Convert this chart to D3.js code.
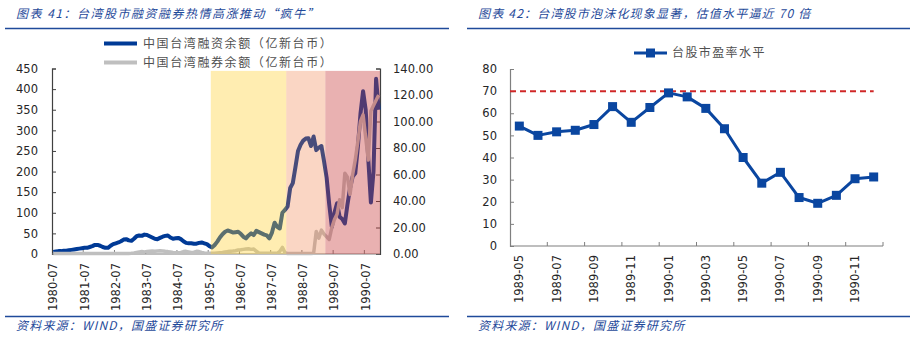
<!DOCTYPE html>
<html><head><meta charset="utf-8">
<script src="https://cdn.jsdelivr.net/npm/d3@7"></script>
<style>
body{margin:0;background:#fff;}
svg{display:block;}
</style></head>
<body>
<svg id="c" width="919" height="338"></svg>
<script>
// ---------- DATA ----------
const leftTitle = "图表 41：台湾股市融资融券热情高涨推动“疯牛”";
const rightTitle = "图表 42：台湾股市泡沫化现象显著，估值水平逼近 70 倍";
const sourceText = "资料来源：WIND，国盛证券研究所";
const seriesMarginName = "中国台湾融资余额（亿新台币）";
const seriesShortName = "中国台湾融券余额（亿新台币）";
const seriesPEName = "台股市盈率水平";

const startYear = 1980, startMonth = 7, monthCount = 126; // 1980-07 .. 1990-12
const monthCats = [];
for (let i = 0; i < monthCount; i++) {
  const m = startMonth - 1 + i;
  const y = startYear + Math.floor(m / 12);
  const mm = (m % 12) + 1;
  monthCats.push(y + "-" + String(mm).padStart(2, "0"));
}
const monthTickLabels = ["1980-07","1981-07","1982-07","1983-07","1984-07","1985-07","1986-07","1987-07","1988-07","1989-07","1990-07"];

// 融资余额 (left axis, 亿新台币)
const marginBalance = [
  5,6,7,7,8,8,9,10,11,12,13,14,
  15,15,17,19,22,22,20,17,15,15,20,24,
  26,28,31,35,36,33,32,37,43,45,44,47,
  46,43,40,37,36,39,42,44,45,40,37,38,
  39,36,31,27,26,26,25,25,27,28,26,24,
  19,16,22,30,40,48,54,57,55,52,53,54,
  49,42,38,45,50,46,56,53,50,47,45,38,
  52,76,66,62,100,107,115,160,172,210,250,265,
  275,280,281,262,285,252,258,262,225,185,120,66,
  100,123,90,85,74,120,160,188,196,260,340,395,
  350,230,125,200,425,350
];
// 融券余额 (right axis, 亿新台币)
const shortBalance = [
  0.4,0.4,0.4,0.4,0.4,0.4,0.4,0.4,0.4,0.4,0.4,0.4,
  0.4,0.4,0.4,0.4,0.4,0.4,0.4,0.4,0.4,0.4,0.4,0.4,
  0.4,0.4,0.4,0.4,0.4,0.4,0.5,0.8,1.2,1.6,1.8,1.6,
  1.8,2.0,2.2,2.0,2.3,2.5,2.3,2.0,1.8,1.5,1.2,1.0,
  1.0,1.2,1.8,2.0,1.6,1.2,1.4,2.0,1.8,1.2,0.8,0.6,
  0.5,0.5,0.6,0.8,1.0,1.2,1.5,1.8,2.0,2.2,2.5,3.0,
  3.2,3.5,3.8,4.0,3.5,3.8,2.0,0.8,0.5,0.5,0.5,0.5,
  0.5,0.5,0.5,2.0,5.0,1.0,0.3,0.3,0.3,0.3,0.3,0.3,
  0.3,0.3,0.3,0.3,0.5,17,12,18,15,13,11,20,
  26,30,41,35,61,58,45,60,71,85,100,105,
  88,71,108,112,116,120
];
const phaseBands = [
  {from:"1985-08", to:"1987-12", color:"#ffcd28", opacity:0.36},
  {from:"1988-01", to:"1989-03", color:"#f0783c", opacity:0.30},
  {from:"1989-04", to:"1990-12", color:"#c83c3c", opacity:0.40}
];
const leftTicks = [0,50,100,150,200,250,300,350,400,450];
const rightTicks = [0,20,40,60,80,100,120,140];

const peCats = ["1989-05","1989-06","1989-07","1989-08","1989-09","1989-10","1989-11","1989-12",
  "1990-01","1990-02","1990-03","1990-04","1990-05","1990-06","1990-07","1990-08",
  "1990-09","1990-10","1990-11","1990-12"];
const peValues = [54.2,50.0,51.6,52.3,54.9,63.0,55.9,62.6,69.2,67.4,62.2,53.0,40.0,28.4,33.3,21.9,19.3,22.9,30.4,31.2];
const peTickLabels = ["1989-05","1989-07","1989-09","1989-11","1990-01","1990-03","1990-05","1990-07","1990-09","1990-11"];
const peTicks = [0,10,20,30,40,50,60,70,80];
const peRefLevel = 70;

// ---------- DRAW ----------
const svg = d3.select("#c");
const numFont = "'DejaVu Sans', Verdana, sans-serif";
const cjkFont = "'Noto Sans CJK SC', 'DejaVu Sans', sans-serif";
const headBlue = "#1f4a9a";
const axisGrey = "#7f7f7f";

function header(x0, x1, title, ls) {
  svg.append("text").attr("x", x0 + 11).attr("y", 18)
    .attr("font-family", cjkFont).attr("font-size", 12).attr("font-style", "italic")
    .attr("letter-spacing", ls).attr("fill", headBlue).text(title);
  svg.append("line").attr("x1", x0).attr("x2", x1).attr("y1", 28.5).attr("y2", 28.5)
    .attr("stroke", headBlue).attr("stroke-width", 1.3);
  svg.append("line").attr("x1", x0).attr("x2", x1).attr("y1", 316.5).attr("y2", 316.5)
    .attr("stroke", headBlue).attr("stroke-width", 1.3);
  svg.append("text").attr("x", x0 + 11).attr("y", 330)
    .attr("font-family", cjkFont).attr("font-size", 12).attr("font-style", "italic")
    .attr("letter-spacing", 1.2).attr("fill", headBlue).text(sourceText);
}
header(5, 449, leftTitle, 1.5);
header(467, 910, rightTitle, 1.2);

// ----- Left chart -----
const xL = d3.scaleBand().domain(monthCats).range([52, 380]);
const yL = d3.scaleLinear().domain([0, 450]).range([254, 68.5]);
const yR = d3.scaleLinear().domain([0, 140]).range([254, 68.5]);
const cx = d => xL(d) + xL.bandwidth() / 2;

const gL = svg.append("g");
const lineMargin = d3.line().x((d, i) => cx(monthCats[i])).y(d => yL(d)).curve(d3.curveLinear);
const lineShort = d3.line().x((d, i) => cx(monthCats[i])).y(d => yR(d)).curve(d3.curveLinear);

// axes
const axL = d3.axisLeft(yL).tickValues(leftTicks).tickSize(-4).tickPadding(14).tickFormat(d3.format("d"));
const gAxL = gL.append("g").attr("transform", "translate(52,0)").call(axL);
const axR = d3.axisRight(yR).tickValues(rightTicks).tickSize(-4).tickPadding(13).tickFormat(d3.format(".2f"));
const gAxR = gL.append("g").attr("transform", "translate(380,0)").call(axR);
[gAxL, gAxR].forEach(g => {
  g.select(".domain").attr("stroke", "#404040").attr("stroke-width", 1.2);
  g.selectAll(".tick line").attr("stroke", "#404040");
  g.selectAll("text").attr("font-family", numFont).attr("font-size", 11.5).attr("fill", "#262626");
});
// x axis
const gAxB = gL.append("g");
gAxB.append("line").attr("x1", 52).attr("x2", 380).attr("y1", 254).attr("y2", 254)
  .attr("stroke", axisGrey).attr("stroke-width", 1.2);
gAxB.selectAll("line.tk").data(monthTickLabels.slice(1)).join("line").attr("class", "tk")
  .attr("x1", d => xL(d)).attr("x2", d => xL(d)).attr("y1", 254).attr("y2", 250)
  .attr("stroke", axisGrey);
gAxB.selectAll("text").data(monthTickLabels).join("text")
  .attr("transform", d => `translate(${cx(d)},${263}) rotate(-90)`)
  .attr("text-anchor", "end").attr("dy", "0.35em")
  .attr("font-family", numFont).attr("font-size", 11.5).attr("fill", "#262626").text(d => d);

gL.append("path").datum(marginBalance).attr("d", lineMargin)
  .attr("fill", "none").attr("stroke", "#003a96").attr("stroke-width", 4).attr("stroke-linejoin", "round");
gL.append("path").datum(shortBalance).attr("d", lineShort)
  .attr("fill", "none").attr("stroke", "#bfbfbf").attr("stroke-width", 3.5).attr("stroke-linejoin", "round");

// phase overlays (translucent, on top)
phaseBands.forEach(b => {
  const x0 = xL(b.from), x1 = xL(b.to) + xL.bandwidth();
  gL.append("rect").attr("x", x0).attr("width", x1 - x0)
    .attr("y", yR(138.2)).attr("height", yR(0) - yR(138.2))
    .attr("fill", b.color).attr("fill-opacity", b.opacity);
});

// legend left
const legL = svg.append("g");
[[seriesMarginName, "#003a96", 43.5], [seriesShortName, "#bfbfbf", 62.5]].forEach(([name, col, y]) => {
  legL.append("line").attr("x1", 104).attr("x2", 137).attr("y1", y).attr("y2", y)
    .attr("stroke", col).attr("stroke-width", 4);
  legL.append("text").attr("x", 143).attr("y", y).attr("dy", "0.36em")
    .attr("font-family", cjkFont).attr("font-size", 12).attr("letter-spacing", 1.6)
    .attr("fill", "#505050").text(name);
});

// ----- Right chart -----
const x2 = d3.scaleBand().domain(peCats).range([510, 883]);
const y2 = d3.scaleLinear().domain([0, 80]).range([246, 69]);
const cx2 = d => x2(d) + x2.bandwidth() / 2;
const gR = svg.append("g");
const ax2 = d3.axisLeft(y2).tickValues(peTicks).tickSize(-4).tickPadding(13).tickFormat(d3.format("d"));
const gAx2 = gR.append("g").attr("transform", "translate(510,0)").call(ax2);
gAx2.select(".domain").attr("stroke", axisGrey).attr("stroke-width", 1.2);
gAx2.selectAll(".tick line").attr("stroke", axisGrey);
gAx2.selectAll("text").attr("font-family", numFont).attr("font-size", 11.5).attr("fill", "#262626");

gR.append("line").attr("x1", 510).attr("x2", 883).attr("y1", 246).attr("y2", 246)
  .attr("stroke", axisGrey).attr("stroke-width", 1.2);
const bTicks = peCats.filter((d, i) => i % 2 === 0 && i > 0).map(d => x2(d)).concat([883]);
gR.selectAll("line.tk").data(bTicks).join("line").attr("class", "tk")
  .attr("x1", d => d).attr("x2", d => d).attr("y1", 246).attr("y2", 242).attr("stroke", axisGrey);
gR.selectAll("text.xl").data(peTickLabels).join("text").attr("class", "xl")
  .attr("transform", d => `translate(${cx2(d)},${255}) rotate(-90)`)
  .attr("text-anchor", "end").attr("dy", "0.35em")
  .attr("font-family", numFont).attr("font-size", 11.5).attr("fill", "#262626").text(d => d);

// reference line
gR.append("line").attr("x1", 510).attr("x2", cx2(peCats[peCats.length - 1]))
  .attr("y1", y2(peRefLevel)).attr("y2", y2(peRefLevel))
  .attr("stroke", "#d02828").attr("stroke-width", 2).attr("stroke-dasharray", "6,4");

const peLine = d3.line().x((d, i) => cx2(peCats[i])).y(d => y2(d));
gR.append("path").datum(peValues).attr("d", peLine)
  .attr("fill", "none").attr("stroke", "#0a46a0").attr("stroke-width", 3).attr("stroke-linejoin", "round");
gR.selectAll("rect.mk").data(peValues).join("rect").attr("class", "mk")
  .attr("x", (d, i) => cx2(peCats[i]) - 4.5).attr("y", d => y2(d) - 4.5)
  .attr("width", 9).attr("height", 9).attr("fill", "#0a46a0");

// legend right
svg.append("line").attr("x1", 634).attr("x2", 667).attr("y1", 53).attr("y2", 53)
  .attr("stroke", "#0a46a0").attr("stroke-width", 3);
svg.append("rect").attr("x", 646).attr("y", 48.5).attr("width", 9).attr("height", 9).attr("fill", "#0a46a0");
svg.append("text").attr("x", 672).attr("y", 53).attr("dy", "0.36em")
  .attr("font-family", cjkFont).attr("font-size", 12).attr("letter-spacing", 1.4)
  .attr("fill", "#505050").text(seriesPEName);
</script>
</body></html>
